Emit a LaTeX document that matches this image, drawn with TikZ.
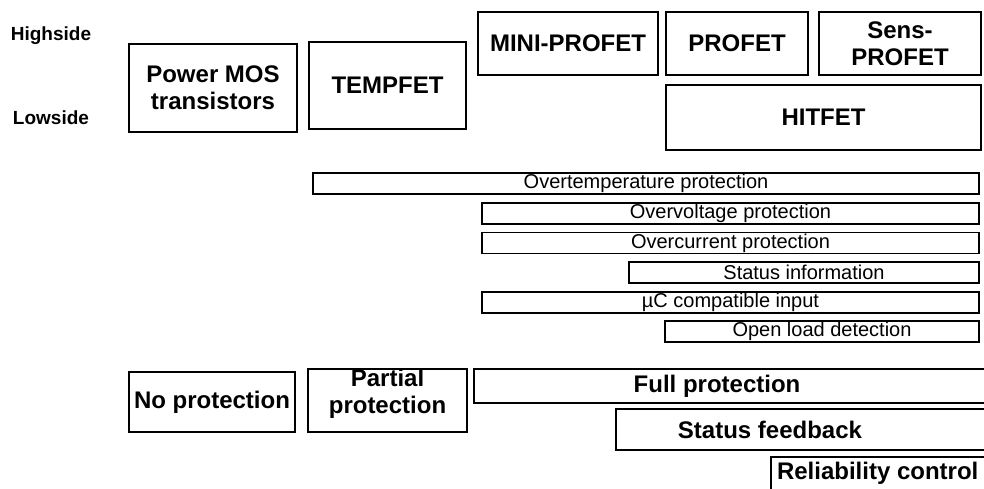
\documentclass[tikz,border=0pt]{standalone}
\usepackage{fontspec}
\setmainfont{Liberation Sans}
\begin{document}
\begin{tikzpicture}[x=1pt, y=-1pt,
	every node/.style={inner sep=0pt, outer sep=0pt},
	chipbox/.style={draw, line width=1.8pt, align=center, font=\fontsize{24}{27}\selectfont\bfseries},
	featbar/.style={draw, line width=1.1pt, minimum height=21pt, font=\fontsize{20}{22}\selectfont},
	levelbox/.style={draw, line width=1.8pt, align=center, font=\fontsize{24}{27}\selectfont\bfseries},
	leveltext/.style={font=\fontsize{24}{27}\selectfont\bfseries},
	sidelabel/.style={font=\fontsize{19}{21}\selectfont\bfseries}]
\useasboundingbox (0,0) rectangle (984,488);
\clip (0,0) rectangle (984,488);

% device families
\path (51,36) node[sidelabel] (high) {Highside};
\path (51,118) node[sidelabel] (low) {Lowside};
\path (213,88) node[chipbox, minimum width=168pt, minimum height=88pt] (pmos) {Power MOS\\transistors};
\path (387.5,85.5) node[chipbox, minimum width=157pt, minimum height=87pt] (tempfet) {TEMPFET};
\path (568,43.5) node[chipbox, minimum width=180pt, minimum height=63pt] (miniprofet) {MINI-PROFET};
\path (737,43.5) node[chipbox, minimum width=142pt, minimum height=63pt] (profet) {PROFET};
\path (900,43.5) node[chipbox, minimum width=162pt, minimum height=63pt] (sensprofet) {Sens-\\PROFET};
\path (823.5,117.5) node[chipbox, minimum width=315pt, minimum height=65pt] (hitfet) {HITFET};

% protection features
\path (646,183.5) node[featbar, minimum width=666pt] (overtemp) {Overtemperature protection};
\path (730.5,213.5) node[featbar, minimum width=497pt] (overvolt) {Overvoltage protection};
\path (730.5,243) node[featbar, minimum width=497pt] (overcurr) {Overcurrent protection};
\path (804,272.5) node[featbar, minimum width=350pt] (statinfo) {Status information};
\path (730.5,302.5) node[featbar, minimum width=497pt] (ucinput) {µC compatible input};
\path (822,331.5) node[featbar, minimum width=314pt] (openload) {Open load detection};

% protection levels
\path (212,402) node[levelbox, minimum width=166pt, minimum height=60pt] (noprot) {No protection};
\path (387.5,400.5) node[levelbox, minimum width=159pt, minimum height=63pt] (partprot) {};
\path (387.5,394) node[leveltext, align=center] (partprottxt) {Partial\\protection};
\draw[line width=1.8pt] (474,369) rectangle (1000,403);
\path (717,386) node[leveltext] (fullprot) {Full protection};
\draw[line width=1.8pt] (616,409) rectangle (1000,450);
\path (770,430) node[leveltext] (statfeed) {Status feedback};
\draw[line width=1.8pt] (771,457) rectangle (1000,500);
\path (777,473) node[leveltext, anchor=west] (relctrl) {Reliability control};

\end{tikzpicture}
\end{document}
